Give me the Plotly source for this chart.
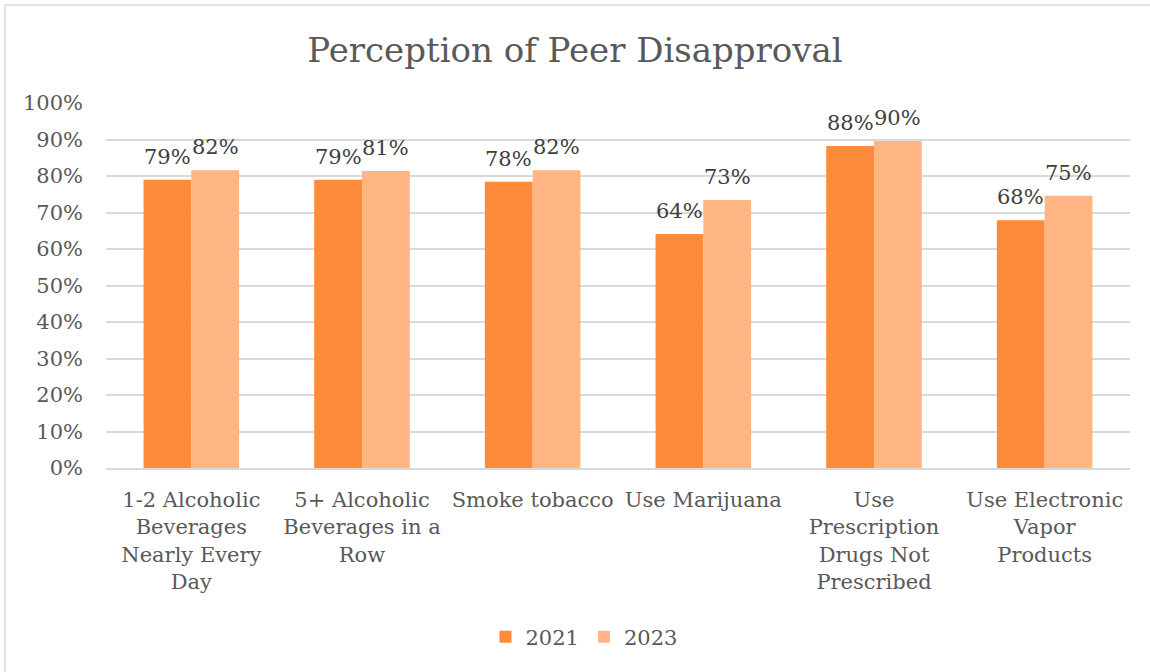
import plotly.graph_objects as go

categories = [
    "1-2 Alcoholic<br>Beverages<br>Nearly Every<br>Day",
    "5+ Alcoholic<br>Beverages in a<br>Row",
    "Smoke tobacco",
    "Use Marijuana",
    "Use<br>Prescription<br>Drugs Not<br>Prescribed",
    "Use Electronic<br>Vapor<br>Products",
]
series_names = ["2021", "2023"]
values_2021 = [0.790, 0.790, 0.784, 0.641, 0.882, 0.679]
values_2023 = [0.816, 0.814, 0.816, 0.734, 0.896, 0.746]
y_ticks = [0, 0.1, 0.2, 0.3, 0.4, 0.5, 0.6, 0.7, 0.8, 0.9, 1.0]

FONT = "DejaVu Serif"
TXT = "#595959"
colors = ["#FE8A3B", "#FFB584"]

L, R, T, B = 106, 20, 103, 204
W, H = 1150, 672
pw, ph = W - L - R, H - T - B
BARGAP = 0.44

def px(x):
    return (x - L) / pw

def py(y):
    return (H - B - y) / ph

fig = go.Figure()
annotations = []
cat_w = pw / len(categories)
bar_w = cat_w * (1 - BARGAP) / 2
for i, (name, vals, col) in enumerate(zip(series_names, [values_2021, values_2023], colors)):
    fig.add_trace(go.Bar(
        x=categories, y=vals, name=name,
        marker=dict(color=col, line=dict(width=0)),
    ))
    offset = (i - 0.5) * bar_w
    for c, v in zip(categories, vals):
        annotations.append(dict(
            x=c, y=v, xref="x", yref="y", text=f"{round(v * 100):.0f}%",
            showarrow=False, xshift=offset, yshift=23, yanchor="middle",
            font=dict(family=FONT, size=21, color="#404040"),
        ))

fig.update_layout(
    width=W, height=H,
    margin=dict(l=L, r=R, t=T, b=B),
    paper_bgcolor="white", plot_bgcolor="white",
    barmode="group", bargap=BARGAP, bargroupgap=0,
    font=dict(family=FONT, color=TXT, size=21),
    title=dict(text="Perception of Peer Disapproval", x=0.5, xanchor="center",
               y=1 - 50 / H, yanchor="middle",
               font=dict(family=FONT, size=34, color=TXT)),
    showlegend=True,
    legend=dict(orientation="h", x=px(584), xanchor="center", y=py(637), yanchor="middle",
                font=dict(family=FONT, size=21, color=TXT), itemwidth=30,
                traceorder="normal"),
    xaxis=dict(showgrid=False, showline=True, linecolor="#D9D9D9", linewidth=1.5,
               ticks="", tickfont=dict(family=FONT, size=21, color=TXT),
               tickangle=0, ticklabelstandoff=12),
    yaxis=dict(range=[0, 1.0], tickvals=y_ticks, tickformat=".0%",
               showgrid=True, gridcolor="#D9D9D9", gridwidth=1.5,
               zeroline=False, showline=False, ticks="",
               tickfont=dict(family=FONT, size=21, color=TXT),
               ticklabelstandoff=22),
    annotations=annotations,
    shapes=[dict(type="rect", xref="paper", yref="paper",
                 x0=px(5), x1=px(1160), y0=py(680), y1=py(5),
                 line=dict(color="#D9D9D9", width=1.5), fillcolor="rgba(0,0,0,0)",
                 layer="below")],
)

fig.write_html("out.html")
